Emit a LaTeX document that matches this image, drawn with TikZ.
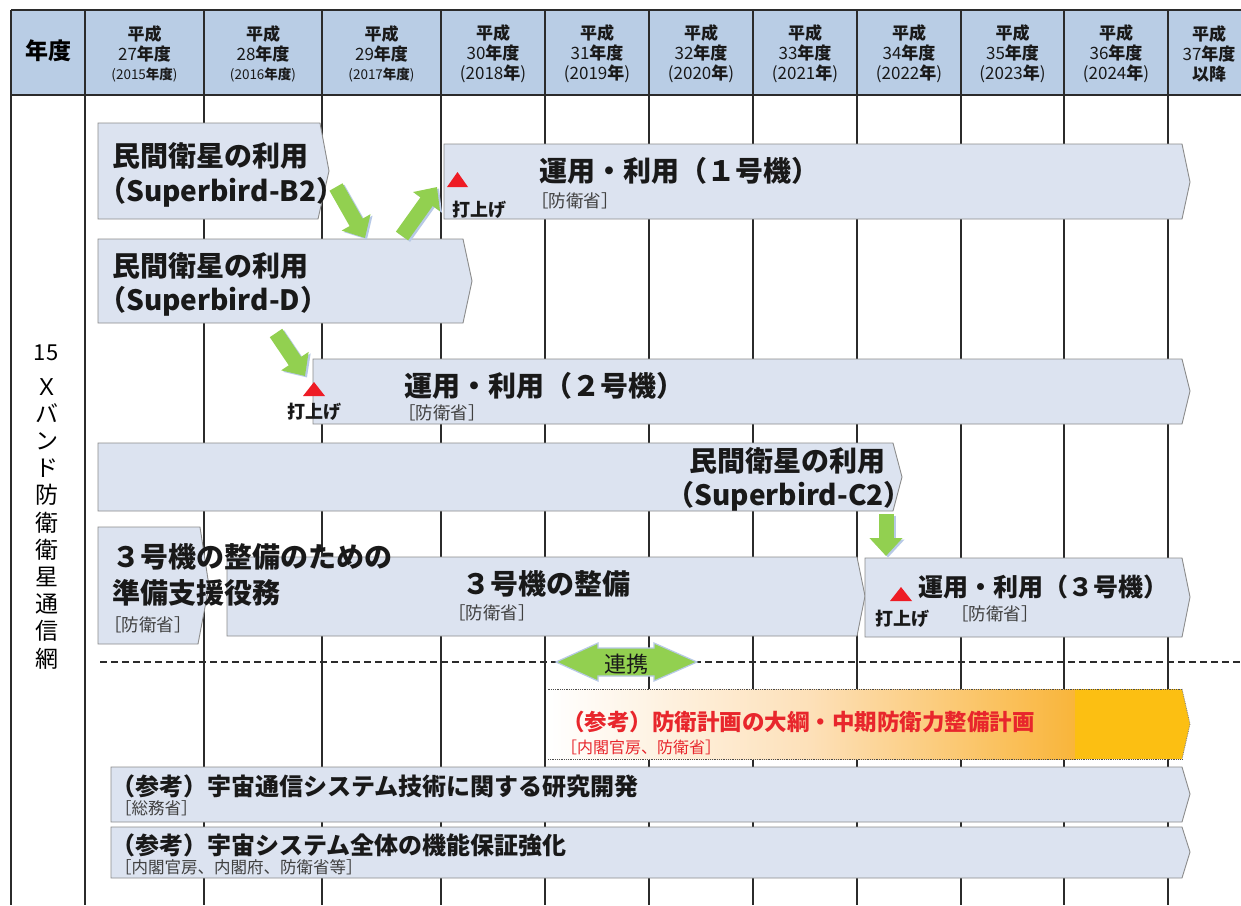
\documentclass[tikz,border=0pt]{standalone}
\usepackage{fontspec}
\setmainfont{Noto Sans CJK JP}
\usetikzlibrary{arrows.meta}
\definecolor{headfill}{HTML}{B9CDE5}
\definecolor{barfill}{HTML}{DCE3F0}
\definecolor{bargray}{HTML}{8C8C8C}
\definecolor{gridc}{HTML}{2B2B2B}
\definecolor{arrgreen}{HTML}{92D050}
\definecolor{arrshadow}{HTML}{B7C9E6}
\definecolor{launchred}{HTML}{EE1C25}
\definecolor{orgA}{HTML}{FDE0B8}
\definecolor{orgB}{HTML}{F9B53A}
\definecolor{orgC}{HTML}{FCBF12}
\definecolor{refred}{HTML}{E8262C}
\newcommand{\fs}[1]{\fontsize{#1}{#1}\selectfont}
\begin{document}
\begin{tikzpicture}[x=1pt,y=-1pt,
  gridline/.style={line width=1.6pt, draw=gridc},
  barshape/.style={fill=barfill, draw=bargray, line width=0.9pt},
  bigtxt/.style={font=\bfseries\fs{28}, anchor=west, inner sep=0pt, text=black!90},
  midtxt/.style={font=\bfseries\fs{25}, anchor=west, inner sep=0pt, text=black!90},
  reftxt/.style={font=\bfseries\fs{24}, anchor=west, inner sep=0pt, text=black!90},
  ministry/.style={font=\fs{17.5}, anchor=west, inner sep=0pt, text=black!75},
  refministry/.style={font=\fs{16.5}, anchor=west, inner sep=0pt, text=black!75},
  launchtxt/.style={font=\bfseries\fs{18}, inner sep=0pt, text=black!90},
  launchmark/.style={fill=launchred, draw=none},
  headtxt/.style={align=center, inner sep=0pt, font=\fs{17}, text=black!90},
  greenarrow/.style={line width=15pt, draw=arrgreen, -{Triangle[length=18pt,width=32pt]}},
  shadowarrow/.style={line width=15pt, draw=arrshadow, -{Triangle[length=18pt,width=32pt]}},
]
\useasboundingbox (0,0) rectangle (1241,905);
\fill[white] (0,0) rectangle (1241,905);

% header
\fill[headfill] (11,10) rectangle (1241,95);
\draw[gridline] (11,10) -- (1241,10);
\draw[gridline] (11,95) -- (1241,95);
\foreach \x in {11,85,204,322,441,545,649,753,857,961,1064,1168}
  \draw[gridline] (\x,10) -- (\x,905);

\node[font=\bfseries\fs{23}, inner sep=0pt] (h0) at (48,51) {年度};
\node[headtxt] (h1) at (144.5,54) {\textbf{平成}\\[3pt]27\textbf{年度}\\[2pt]{\fs{13.5}(2015\textbf{年度})}};
\node[headtxt] (h2) at (263,54) {\textbf{平成}\\[3pt]28\textbf{年度}\\[2pt]{\fs{13.5}(2016\textbf{年度})}};
\node[headtxt] (h3) at (381.5,54) {\textbf{平成}\\[3pt]29\textbf{年度}\\[2pt]{\fs{13.5}(2017\textbf{年度})}};
\node[headtxt] (h4) at (493,54) {\textbf{平成}\\[3pt]30\textbf{年度}\\[3pt](2018\textbf{年})};
\node[headtxt] (h5) at (597,54) {\textbf{平成}\\[3pt]31\textbf{年度}\\[3pt](2019\textbf{年})};
\node[headtxt] (h6) at (701,54) {\textbf{平成}\\[3pt]32\textbf{年度}\\[3pt](2020\textbf{年})};
\node[headtxt] (h7) at (805,54) {\textbf{平成}\\[3pt]33\textbf{年度}\\[3pt](2021\textbf{年})};
\node[headtxt] (h8) at (909,54) {\textbf{平成}\\[3pt]34\textbf{年度}\\[3pt](2022\textbf{年})};
\node[headtxt] (h9) at (1012.5,54) {\textbf{平成}\\[3pt]35\textbf{年度}\\[3pt](2023\textbf{年})};
\node[headtxt] (h10) at (1116,54) {\textbf{平成}\\[3pt]36\textbf{年度}\\[3pt](2024\textbf{年})};
\node[headtxt] (h11) at (1209,54) {\textbf{平成}\\[3pt]37\textbf{年度}\\[3pt]\textbf{以降}};

% left vertical title
\node[font=\fs{22}, inner sep=0pt] (t15) at (46,353) {15};
\node[font=\fontsize{23}{27.2}\selectfont, inner sep=0pt, align=center, anchor=north] (title) at (47,378)
  {Ｘ\\バ\\ン\\ド\\防\\衛\\衛\\星\\通\\信\\網};

% bars
\path[barshape] (98,123) -- (320,123) -- (329,171) -- (318,219) -- (98,219) -- cycle;
\path[barshape] (444,144) -- (1182,144) -- (1190,182) -- (1182,219) -- (444,219) -- cycle;
\path[barshape] (98,239) -- (463,239) -- (472,281) -- (463,323) -- (98,323) -- cycle;
\path[barshape] (313,359) -- (1182,359) -- (1190,391) -- (1182,424) -- (313,424) -- cycle;
\path[barshape] (98,443) -- (893,443) -- (902,477) -- (893,511) -- (98,511) -- cycle;
\path[barshape] (98,527) -- (200,527) -- (209,586) -- (198,644) -- (98,644) -- cycle;
\path[barshape] (227,557) -- (857,557) -- (865,596) -- (857,636) -- (227,636) -- cycle;
\path[barshape] (865,558) -- (1182,558) -- (1190,597) -- (1182,637) -- (865,637) -- cycle;
\path[barshape] (111,767) -- (1182,767) -- (1190,794) -- (1182,822) -- (111,822) -- cycle;
\path[barshape] (111,827) -- (1182,827) -- (1190,852) -- (1182,878) -- (111,878) -- cycle;

% orange reference bar
\shade[shading=axis, left color=white, right color=orgA] (548,689) rectangle (812,759);
\shade[shading=axis, left color=orgA, right color=orgB] (811.5,689) rectangle (1076,759);
\fill[orgC] (1075,689) -- (1182,689) -- (1190,724) -- (1182,759) -- (1075,759) -- cycle;
\draw[densely dotted, line width=0.8pt, black!70] (1182,689) -- (548,689) (548,759) -- (1182,759);
\draw[densely dotted, line width=0.8pt, black!50] (1182,689) -- (1190,724) -- (1182,759);

% dashed separator
\draw[dashed, dash pattern=on 7pt off 4pt, line width=1.4pt, gridc] (100,662) -- (1241,662);

% 連携 double arrow
\path[fill=arrgreen, draw=arrshadow, line width=1.2pt]
  (556,662) -- (598,643) -- (598,648) -- (654,648) -- (654,643) -- (697,662)
  -- (654,681) -- (654,676) -- (598,676) -- (598,681) -- cycle;
\node[font=\fs{22}, text=black!90, inner sep=0pt] (link) at (626,664) {連携};

% texts in bars
\node[bigtxt] (b2a) at (112,156) {民間衛星の利用};
\node[bigtxt] (b2b) at (98,192) {（Superbird-B2）};
\node[bigtxt] (da) at (112,266) {民間衛星の利用};
\node[bigtxt] (db) at (98,301) {（Superbird-D）};
\node[bigtxt] (s1) at (539,171) {運用・利用（１号機）};
\node[ministry] (s1m) at (531,201) {［防衛省］};
\node[bigtxt] (s2) at (404,386) {運用・利用（２号機）};
\node[ministry] (s2m) at (398,413) {［防衛省］};
\node[bigtxt, anchor=east] (c2a) at (886,461) {民間衛星の利用};
\node[bigtxt, anchor=east] (c2b) at (912,496) {（Superbird-C2）};
\node[bigtxt] (p1) at (112,557) {３号機の整備のための};
\node[bigtxt] (p2) at (112,593) {準備支援役務};
\node[ministry] (p3) at (104,625) {［防衛省］};
\node[bigtxt] (m1) at (462,584) {３号機の整備};
\node[ministry] (m1m) at (448,613) {［防衛省］};
\node[midtxt] (s3) at (918,587) {運用・利用（３号機）};
\node[ministry] (s3m) at (951,614) {［防衛省］};

\node[font=\bfseries\fs{22.5}, text=refred, anchor=west, inner sep=0pt] (rp1) at (562,722) {（参考）防衛計画の大綱・中期防衛力整備計画};
\node[font=\fs{16}, text=refred, anchor=west, inner sep=0pt] (rp1m) at (561,747) {［内閣官房、防衛省］};
\node[reftxt] (rp2) at (111,786) {（参考）宇宙通信システム技術に関する研究開発};
\node[refministry] (rp2m) at (115,808) {［総務省］};
\node[reftxt] (rp3) at (111,845) {（参考）宇宙システム全体の機能保証強化};
\node[refministry] (rp3m) at (115,867) {［内閣官房、内閣府、防衛省等］};

% launch marks
\path[launchmark] (447,187) -- (468,187) -- (457.5,172) -- cycle;
\node[launchtxt] (l1) at (479,210) {打上げ};
\path[launchmark] (303,396) -- (325,396) -- (314,382) -- cycle;
\node[launchtxt] (l2) at (314,412) {打上げ};
\path[launchmark] (890,601) -- (912,601) -- (901,587) -- cycle;
\node[launchtxt] (l3) at (902,619) {打上げ};

% green arrows
\coordinate (a1s) at (336,187);
\coordinate (a1e) at (365,238);
\coordinate (a2s) at (402,236);
\coordinate (a2e) at (437,187);
\coordinate (a3s) at (276,333);
\coordinate (a3e) at (305,376);
\coordinate (a4s) at (886,514);
\coordinate (a4e) at (886,556);
\foreach \s/\e in {a1s/a1e,a2s/a2e,a3s/a3e,a4s/a4e}{
  \draw[shadowarrow] ([shift={(2,1.5)}]\s) -- ([shift={(2,1.5)}]\e);
  \draw[greenarrow] (\s) -- (\e);
}
\end{tikzpicture}
\end{document}
